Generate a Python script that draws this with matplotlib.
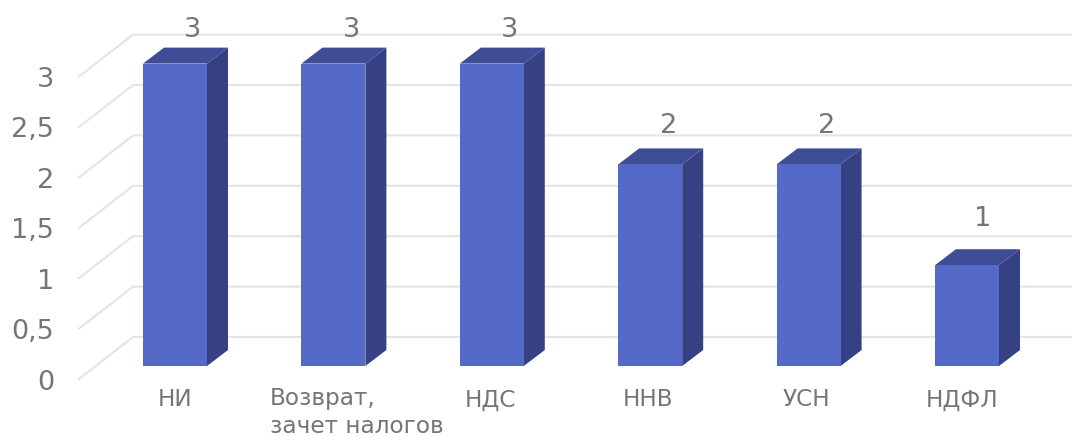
import matplotlib
matplotlib.use('Agg')
import matplotlib.pyplot as plt
from matplotlib.patches import Polygon

plt.rcParams['font.family'] = 'DejaVu Sans'

categories = ['НИ', 'Возврат,\nзачет налогов', 'НДС', 'ННВ', 'УСН', 'НДФЛ']
values = [3, 3, 3, 2, 2, 1]
ticks = [0, 0.5, 1, 1.5, 2, 2.5, 3]
tick_labels = ['0', '0,5', '1', '1,5', '2', '2,5', '3']

W, H = 1072, 437
# one category step and one value unit in pixels
step = 158.4
unit = 100.8
x0, y0 = 175, 366


# pixel sizes to data units
def dx(px):
    return px / step


def dy(px):
    return px / unit


fig = plt.figure(figsize=(W / 100, H / 100), dpi=100)
ax = fig.add_axes([0, 0, 1, 1])
ax.set_xlim(-x0 / step, (W - x0) / step)
ax.set_ylim((y0 - H) / unit, y0 / unit)
ax.axis('off')

grid = '#E4E4E4'
text = '#767671'
front = '#5569C8'
top = '#3F4D97'
side = '#364183'

# back wall lines and the slanted floor lines
for t, label in zip(ticks, tick_labels):
    ax.plot([dx(79 - x0), dx(133 - x0), dx(W - x0)],
            [t - dy(13), t + dy(29), t + dy(29)],
            color=grid, lw=1.5, zorder=1, solid_joinstyle='miter')
    ax.text(dx(54 - x0), t - dy(16.5), label, ha='right', va='center', fontsize=19.5, color=text)

w = dx(64)
ox, oy = dx(21), dy(16)
lift = {3: 34, 2: 38, 1: 46}
for i, v in enumerate(values):
    l, r = i - w / 2, i + w / 2
    ax.add_patch(Polygon([(r, 0), (r + ox, oy), (r + ox, v + oy), (r, v)], fc=side, ec='none', zorder=3))
    ax.add_patch(Polygon([(l, v), (l + ox, v + oy), (r + ox, v + oy), (r, v)], fc=top, ec='none', zorder=3))
    ax.add_patch(Polygon([(l, 0), (r, 0), (r, v), (l, v)], fc=front, ec='none', zorder=4))
    ax.text(i + dx(18 if v > 1 else 16), v + dy(lift[v]), str(v), ha='center', va='center',
            fontsize=19.5, color=text)

# category labels sit a little off the bar centres
offsets = [0, 0, -1, -2, -2, -5]
for i, c in enumerate(categories):
    if '\n' in c:
        ax.text(dx(270 - x0), dy(y0 - 412.5), c, ha='left', va='center', fontsize=16.7,
                color=text, linespacing=1.25)
    else:
        ax.text(i + dx(offsets[i]), dy(y0 - 400), c, ha='center', va='center', fontsize=16.7, color=text)

fig.savefig('out.png', dpi=100)
